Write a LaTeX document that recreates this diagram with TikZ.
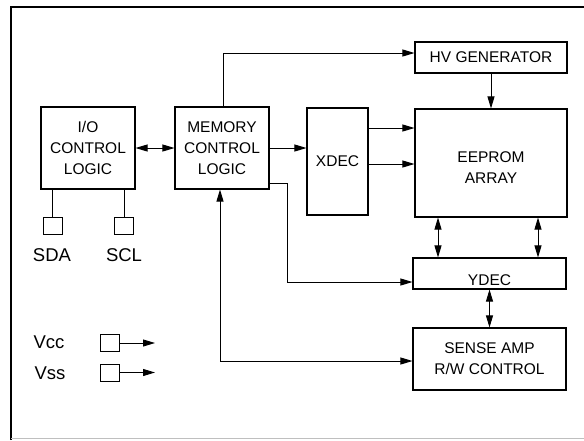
\documentclass[tikz,border=0pt]{standalone}
\usepackage{fontspec}
\setmainfont{Liberation Sans}
\usetikzlibrary{arrows.meta}

\begin{document}
\begin{tikzpicture}[x=1pt,y=-1pt,
		blk/.style={draw, line width=1.1pt, align=center, inner sep=0pt, font=\fontsize{15.5}{21}\selectfont},
		pin/.style={draw, line width=1pt, minimum width=19pt, minimum height=17pt, inner sep=0pt},
		lbl/.style={align=center, font=\fontsize{15.5}{21}\selectfont},
		pinlbl/.style={font=\fontsize{18.5}{22}\selectfont},
		arr/.style={line width=0.9pt, -{Triangle[length=12pt,width=7pt]}},
		darr/.style={line width=0.9pt, {Triangle[length=12pt,width=7pt]}-{Triangle[length=12pt,width=7pt]}}]
		\useasboundingbox (0,0) rectangle (584,440);
		\draw[line width=2.5pt] (11,440) -- (11,7) -- (584,7);
		\draw[gray!50, line width=1pt] (11,438.5) -- (584,438.5);

		\node[blk, minimum width=94pt, minimum height=82pt] (io) at (88,148) {I/O\\CONTROL\\LOGIC};
		\node[blk, minimum width=94pt, minimum height=82pt] (mem) at (222,148) {MEMORY\\CONTROL\\LOGIC};
		\node[blk, minimum width=152pt, minimum height=31pt] (hv) at (491,57.5) {HV GENERATOR};
		\node[blk, minimum width=152pt, minimum height=108pt] (eeprom) at (491,163) {};
		\node[lbl] (eepromtxt) at ([yshift=-5pt]eeprom.center) {EEPROM\\ARRAY};
		\node[blk, minimum width=61pt, minimum height=107pt] (xdec) at (337.5,161.5) {XDEC};
		\node[blk, minimum width=153pt, minimum height=31pt] (ydec) at (489.5,273.5) {};
		\node[lbl] (ydectxt) at ([yshift=-6.5pt]ydec.center) {YDEC};
		\node[blk, minimum width=153pt, minimum height=62pt] (sense) at (489.5,359) {SENSE AMP\\R/W CONTROL};

		\node[pin] (sda) at (52.5,225.5) {};
		\node[pin] (scl) at (124,225.5) {};
		\node[pinlbl] (sdalbl) at (52,255) {SDA};
		\node[pinlbl] (scllbl) at (124,255) {SCL};
		\node[pin] (vcc) at (109.5,343) {};
		\node[pin] (vss) at (109.5,372.5) {};
		\node[pinlbl] (vcclbl) at (49,342) {Vcc};
		\node[pinlbl] (vsslbl) at (50,373) {Vss};
		\coordinate (vccout) at (155,343);
		\coordinate (vssout) at (155,372.5);

		\draw[darr] (io.east) -- (mem.west);
		\draw[arr] (mem.east) -- (mem.east -| xdec.west);
		\draw[arr] ([xshift=1pt]mem.north) |- ([yshift=4.5pt]hv.west);
		\draw[arr] (hv.south) -- (eeprom.north);
		\draw[arr] ([yshift=33.5pt]xdec.east) -- ([yshift=33.5pt]xdec.east -| eeprom.west);
		\draw[arr] ([yshift=-2.5pt]xdec.east) -- ([yshift=-2.5pt]xdec.east -| eeprom.west);
		\draw[arr] ([yshift=-35pt]mem.east) -- ++(18,0) |- ([yshift=-8.5pt]ydec.west);
		\draw[darr] ([xshift=-53pt]eeprom.south) -- ([xshift=-53pt]eeprom.south |- ydec.north);
		\draw[darr] ([xshift=47pt]eeprom.south) -- ([xshift=47pt]eeprom.south |- ydec.north);
		\draw[darr] (ydec.south) -- (sense.north);
		\draw[darr] ([xshift=-2pt]mem.south) |- ([yshift=-2pt]sense.west);
		\draw[line width=0.9pt] (sda.north) -- (sda.north |- io.south);
		\draw[line width=0.9pt] (scl.north) -- (scl.north |- io.south);
		\draw[arr] (vcc.east) -- (vccout);
		\draw[arr] (vss.east) -- (vssout);
	\end{tikzpicture}
\end{document}
